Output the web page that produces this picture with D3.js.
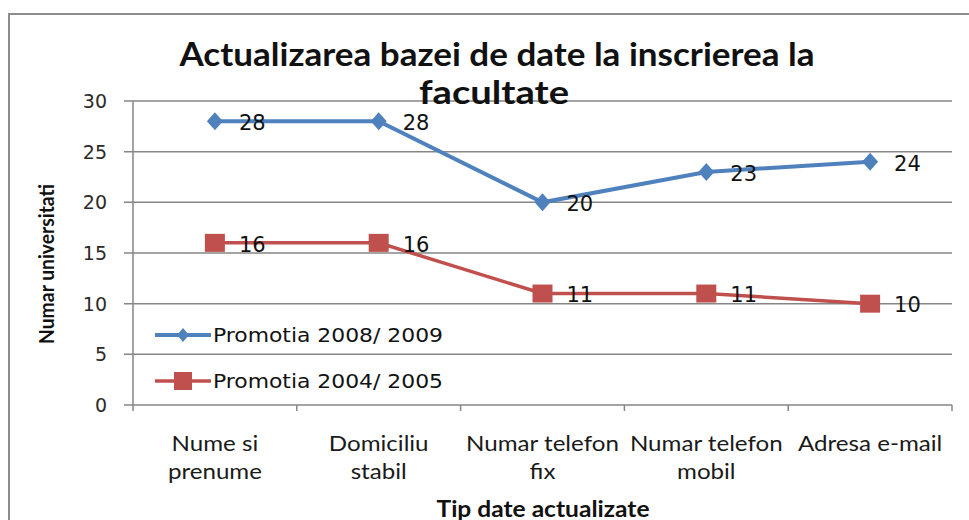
<!DOCTYPE html>
<html>
<head>
<meta charset="utf-8">
<script src="https://cdn.jsdelivr.net/npm/d3@7"></script>
<style>
body { margin: 0; background: #fff; }
svg { display: block; }
</style>
</head>
<body>
<svg id="chart"></svg>
<script>
var categories = [["Nume si", "prenume"], ["Domiciliu", "stabil"], ["Numar telefon", "fix"], ["Numar telefon", "mobil"], ["Adresa e-mail"]];
var seriesNames = ["Promotia 2008/ 2009", "Promotia 2004/ 2005"];
var values2008 = [28, 28, 20, 23, 24];
var values2004 = [16, 16, 11, 11, 10];
var yTicks = [0, 5, 10, 15, 20, 25, 30];

var width = 969, height = 520;
var plotLeft = 133, plotRight = 952, plotTop = 101, plotBottom = 405;

var svg = d3.select("#chart").attr("width", width).attr("height", height);

// outer chart frame
svg.append("path")
    .attr("d", "M 9 520 L 9 14 L 969 14")
    .attr("fill", "none")
    .attr("stroke", "#8c8c8c")
    .attr("stroke-width", 2);

var x = d3.scaleBand().domain(d3.range(categories.length)).range([plotLeft, plotRight]);
var y = d3.scaleLinear().domain([0, 30]).range([plotBottom, plotTop]);

function cx(i) { return x(i) + x.bandwidth() / 2; }

// gridlines
svg.append("g")
    .selectAll("line")
    .data(yTicks)
    .enter()
    .append("line")
    .attr("x1", plotLeft - 9)
    .attr("x2", plotRight)
    .attr("y1", function(d) { return y(d); })
    .attr("y2", function(d) { return y(d); })
    .attr("stroke", "#868686")
    .attr("stroke-width", 1.5);

svg.append("line")
    .attr("x1", plotLeft).attr("x2", plotLeft)
    .attr("y1", plotTop).attr("y2", plotBottom)
    .attr("stroke", "#868686").attr("stroke-width", 1.5);

// x tick marks at band edges
var edges = d3.range(categories.length + 1).map(function(i) { return plotLeft + i * x.bandwidth(); });
svg.append("g")
    .selectAll("line")
    .data(edges)
    .enter()
    .append("line")
    .attr("x1", function(d) { return d; })
    .attr("x2", function(d) { return d; })
    .attr("y1", plotBottom)
    .attr("y2", plotBottom + 6)
    .attr("stroke", "#868686")
    .attr("stroke-width", 1.5);

// y tick labels
svg.append("g")
    .selectAll("text")
    .data(yTicks)
    .enter()
    .append("text")
    .attr("x", 107)
    .attr("y", function(d) { return y(d); })
    .attr("dy", "0.36em")
    .attr("text-anchor", "end")
    .attr("font-family", "DejaVu Sans")
    .attr("font-size", 19)
    .attr("fill", "#2a2a2a")
    .text(function(d) { return d; });

// category labels, slightly stretched like the original
var catG = svg.append("g")
    .selectAll("text")
    .data(categories)
    .enter()
    .append("text")
    .attr("text-anchor", "middle")
    .attr("transform", function(d, i) { return "translate(" + cx(i) + " 0) scale(1.15 1)"; })
    .attr("font-family", "Lato")
    .attr("font-size", 21)
    .attr("fill", "#1a1a1a");
catG.selectAll("tspan")
    .data(function(d) { return d; })
    .enter()
    .append("tspan")
    .attr("x", 0)
    .attr("y", function(d, j) { return 451 + j * 28; })
    .text(function(d) { return d; });

var line = d3.line()
    .x(function(d, i) { return cx(i); })
    .y(function(d) { return y(d); });

// red series
svg.append("path")
    .datum(values2004)
    .attr("d", line)
    .attr("fill", "none")
    .attr("stroke", "#c0504d")
    .attr("stroke-width", 3.5);

svg.append("g")
    .selectAll("rect")
    .data(values2004)
    .enter()
    .append("rect")
    .attr("x", function(d, i) { return cx(i) - 10; })
    .attr("y", function(d) { return y(d) - 9; })
    .attr("width", 20)
    .attr("height", 18)
    .attr("fill", "#c0504d");

// blue series
svg.append("path")
    .datum(values2008)
    .attr("d", line)
    .attr("fill", "none")
    .attr("stroke", "#4f81bd")
    .attr("stroke-width", 4);

var diamond = "M 0 -9 L 8 0 L 0 9 L -8 0 Z";
svg.append("g")
    .selectAll("path")
    .data(values2008)
    .enter()
    .append("path")
    .attr("d", diamond)
    .attr("transform", function(d, i) { return "translate(" + cx(i) + " " + y(d) + ")"; })
    .attr("fill", "#4f81bd");

// data labels
function labels(vals) {
    svg.append("g")
        .selectAll("text")
        .data(vals)
        .enter()
        .append("text")
        .attr("x", function(d, i) { return cx(i) + 24; })
        .attr("y", function(d) { return y(d); })
        .attr("dy", "0.42em")
        .attr("font-family", "DejaVu Sans")
        .attr("font-size", 21)
        .attr("fill", "#111")
        .text(function(d) { return d; });
}
labels(values2008);
labels(values2004);

// legend
var legend = svg.append("g")
    .selectAll("g")
    .data(seriesNames)
    .enter()
    .append("g")
    .attr("transform", function(d, i) { return "translate(155 " + (335 + i * 46) + ")"; });
legend.append("line")
    .attr("x1", 0).attr("x2", 56)
    .attr("stroke", function(d, i) { return i == 0 ? "#4f81bd" : "#c0504d"; })
    .attr("stroke-width", function(d, i) { return i == 0 ? 4 : 3.5; });
legend.append("path")
    .attr("d", function(d, i) { return i == 0 ? "M 28 -7 L 34 0 L 28 7 L 22 0 Z" : "M 19 -9 L 37 -9 L 37 9 L 19 9 Z"; })
    .attr("fill", function(d, i) { return i == 0 ? "#4f81bd" : "#c0504d"; });
legend.append("text")
    .attr("x", 58)
    .attr("dy", "0.36em")
    .attr("font-family", "DejaVu Sans")
    .attr("font-size", 20)
    .attr("textLength", 230)
    .attr("lengthAdjust", "spacingAndGlyphs")
    .attr("fill", "#111")
    .text(function(d) { return d; });

// titles
svg.append("text")
    .attr("x", 497).attr("y", 66)
    .attr("text-anchor", "middle")
    .attr("font-family", "Lato")
    .attr("font-weight", "bold")
    .attr("font-size", 32)
    .attr("textLength", 635)
    .attr("lengthAdjust", "spacingAndGlyphs")
    .attr("fill", "#111")
    .text("Actualizarea bazei de date la inscrierea la");
svg.append("text")
    .attr("x", 494).attr("y", 104)
    .attr("text-anchor", "middle")
    .attr("font-family", "Lato")
    .attr("font-weight", "bold")
    .attr("font-size", 32)
    .attr("textLength", 150)
    .attr("lengthAdjust", "spacingAndGlyphs")
    .attr("fill", "#111")
    .text("facultate");

svg.append("text")
    .attr("transform", "translate(54 264) rotate(-90)")
    .attr("text-anchor", "middle")
    .attr("font-family", "Lato")
    .attr("font-weight", "bold")
    .attr("font-size", 20)
    .attr("textLength", 160)
    .attr("lengthAdjust", "spacingAndGlyphs")
    .attr("fill", "#111")
    .text("Numar universitati");

svg.append("text")
    .attr("x", 543).attr("y", 517)
    .attr("text-anchor", "middle")
    .attr("font-family", "Lato")
    .attr("font-weight", "bold")
    .attr("font-size", 22)
    .attr("textLength", 213)
    .attr("lengthAdjust", "spacingAndGlyphs")
    .attr("fill", "#111")
    .text("Tip date actualizate");
</script>
</body>
</html>
